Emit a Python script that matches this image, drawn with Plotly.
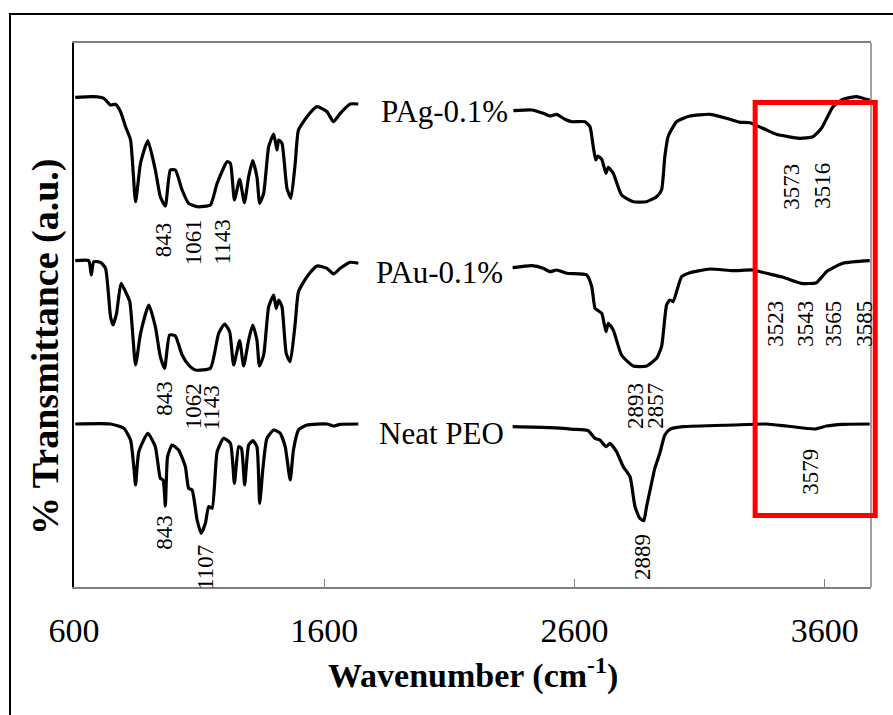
import plotly.graph_objects as go

# ---------------- data ----------------
# wavenumber (cm-1) and stacked transmittance (arbitrary units)
pag_wn_low = [605, 679, 719, 746, 766, 786, 806, 826, 846, 866, 895, 925, 945, 965, 985, 1005,
              1032, 1058, 1092, 1145, 1172, 1212, 1225, 1241, 1262, 1281, 1298, 1314, 1331, 1342,
              1358, 1378, 1398, 1411, 1418, 1431, 1451, 1467, 1484, 1497, 1531, 1571, 1611, 1637,
              1664, 1704, 1736]
pag_t_low = [489.7, 490.3, 488.7, 482, 482.7, 475.3, 460.3, 447, 385.3, 424, 446.3, 417, 390.3, 381,
             417, 417, 397, 383.7, 380.3, 382, 403.7, 425.3, 423.7, 387, 407.7, 384.3, 410.3, 426.3,
             410.3, 383.7, 393.7, 440.3, 453, 437, 447, 443.7, 398.7, 388.7, 423.7, 457, 470.3,
             480.3, 475.3, 465.3, 473.7, 483, 483]
pag_wn_high = [2356, 2429, 2475, 2502, 2529, 2562, 2589, 2642, 2662, 2675, 2685, 2693, 2709, 2726,
               2735, 2755, 2788, 2835, 2888, 2928, 2948, 2961, 2974, 3008, 3061, 3141, 3208, 3261,
               3301, 3367, 3407, 3500, 3553, 3587, 3633, 3673, 3727, 3767, 3780]
pag_t_high = [476.3, 477, 473.7, 471, 472.7, 467.7, 465.3, 465.3, 460.3, 440.3, 427, 431, 427.7,
              413.7, 419.7, 413.7, 392, 385.3, 385.3, 390.3, 397, 430.3, 450.3, 465.3, 471, 472.7,
              468.7, 464.7, 464.3, 457, 452.7, 448.7, 450.3, 458.7, 480.3, 487.7, 490.3, 487.7, 487]

pau_wn_low = [605, 659, 669, 679, 706, 726, 746, 756, 770, 788, 806, 823, 846, 866, 899, 925, 945,
              962, 982, 1005, 1032, 1058, 1085, 1145, 1178, 1202, 1222, 1238, 1262, 1278, 1298,
              1314, 1331, 1341, 1358, 1378, 1398, 1408, 1418, 1431, 1448, 1464, 1484, 1497, 1531,
              1571, 1611, 1637, 1664, 1704, 1736]
pau_t_low = [326.3, 326.3, 312, 325.3, 324.7, 318.7, 270.3, 262, 273.7, 303.7, 295.3, 285.3, 222,
             253.7, 282, 260.3, 230.3, 218.7, 252, 251, 232, 222, 217, 218.7, 253.7, 263, 255.3,
             222, 246.3, 221, 247, 262, 247, 221, 232, 280.3, 292, 278.7, 287, 280.3, 233.7, 225.3,
             263.7, 295.3, 310.3, 321, 318.7, 313, 318.7, 324.7, 323.7]
pau_wn_high = [2353, 2429, 2475, 2502, 2529, 2569, 2649, 2669, 2682, 2691, 2709, 2726, 2735, 2755,
               2788, 2835, 2888, 2928, 2948, 2968, 2981, 2994, 3028, 3061, 3141, 3234, 3314, 3367,
               3434, 3507, 3567, 3607, 3673, 3780]
pau_t_high = [319.3, 321.3, 318.7, 315.3, 317, 313.7, 312, 300.3, 278.7, 277, 273.7, 255.3, 263.7,
              257, 232, 221, 221, 228.7, 240.3, 282, 287, 285.3, 310.3, 314.3, 318, 316.3, 317,
              313.7, 309.7, 303.7, 304.3, 315.3, 323.7, 326.3]

peo_wn_low = [605, 746, 799, 826, 839, 846, 859, 895, 925, 945, 956, 965, 974, 992, 1018, 1045,
              1058, 1072, 1092, 1108, 1125, 1138, 1152, 1172, 1198, 1225, 1241, 1258, 1269, 1282,
              1298, 1315, 1331, 1342, 1355, 1371, 1398, 1424, 1444, 1464, 1477, 1497, 1531, 1611,
              1637, 1664, 1736]
peo_t_low = [163, 163, 158.7, 147, 120.3, 102, 135.3, 153.7, 140.3, 108.7, 107, 81, 130.3, 142,
             137, 120.3, 98.7, 97, 67, 53.7, 63.7, 80.3, 78.7, 135.3, 148.7, 143.7, 103.7, 140.3,
             138.7, 102, 142, 146.3, 140.3, 83.7, 118.7, 148.7, 157, 153.7, 140.3, 107, 137, 157,
             162, 163, 161, 162.7, 163]
peo_wn_high = [2353, 2502, 2595, 2655, 2682, 2702, 2726, 2742, 2768, 2795, 2822, 2842, 2861, 2877,
               2888, 2908, 2921, 2941, 2961, 2981, 3034, 3234, 3367, 3447, 3560, 3607, 3673, 3780]
peo_t_high = [160.3, 159.3, 157.7, 156.3, 148.7, 147, 140.3, 143.7, 135.3, 120.3, 110.3, 80.3,
              68.7, 66.3, 80.3, 103.7, 118.7, 133.7, 152, 157.7, 160.3, 162, 163, 161, 158, 161,
              162.7, 163]

x_tick_vals = [600, 1600, 2600, 3600]
x_tick_text = ["600", "1600", "2600", "3600"]

series_names = ["PAg-0.1%", "PAu-0.1%", "Neat PEO"]
series_label_wn = [2079, 2059, 2067]
series_label_t = [476, 315, 154]

peak_texts = ["843", "1061", "1143", "843", "1062", "1143", "843", "1107",
              "2893", "2857", "2889", "3573", "3516",
              "3523", "3543", "3565", "3585", "3579"]
peak_wn = [957, 1077, 1193, 959, 1077, 1149, 959, 1123,
           2842, 2921, 2870, 3464, 3588,
           3400, 3520, 3632, 3756, 3540]
peak_t = [347, 345, 345, 189, 181, 179, 55, 20,
          181, 181, 30, 400, 401,
          263, 263, 263, 263, 115]

box_wn = [3322, 3802]
box_t = [71.5, 484.5]

# ---------------- layout constants ----------------
W, H = 893, 715
ML, MR, MT, MB = 74, 22, 43, 128
X_RANGE = [600, 3785]
Y_RANGE = [0, 544]
SERIF = "Liberation Serif, Times New Roman, serif"


def xpaper(v):
    return (v - X_RANGE[0]) / (X_RANGE[1] - X_RANGE[0])


def ypaper(v):
    return (v - Y_RANGE[0]) / (Y_RANGE[1] - Y_RANGE[0])


def px_to_xpaper(px):
    return (px - ML) / (W - ML - MR)


def py_to_ypaper(py):
    return (H - MB - py) / (H - MT - MB)


fig = go.Figure()
curves = [(pag_wn_low, pag_t_low, pag_wn_high, pag_t_high),
          (pau_wn_low, pau_t_low, pau_wn_high, pau_t_high),
          (peo_wn_low, peo_t_low, peo_wn_high, peo_t_high)]
for name, (wl, tl, wh, th) in zip(series_names, curves):
    fig.add_trace(go.Scatter(
        x=wl + [None] + wh, y=tl + [None] + th, mode="lines", name=name,
        line=dict(color="black", width=3.2, shape="spline", smoothing=0.5),
        connectgaps=False, showlegend=False, hoverinfo="skip"))

annotations = []
for name, xw, yt in zip(series_names, series_label_wn, series_label_t):
    annotations.append(dict(x=xw, y=yt, xref="x", yref="y", text=name, showarrow=False,
                            font=dict(family=SERIF, size=31, color="black"),
                            xanchor="center", yanchor="middle"))
for txt, xw, yt in zip(peak_texts, peak_wn, peak_t):
    annotations.append(dict(x=xw, y=yt, xref="x", yref="y", text=txt, showarrow=False,
                            textangle=-90, font=dict(family=SERIF, size=23, color="black"),
                            xanchor="center", yanchor="middle"))
annotations.append(dict(x=0.5, y=py_to_ypaper(673), xref="paper", yref="paper",
                        text="<b>Wavenumber (cm<sup>-1</sup>)</b>", showarrow=False,
                        font=dict(family=SERIF, size=34, color="black"),
                        xanchor="center", yanchor="middle"))
annotations.append(dict(x=px_to_xpaper(45), y=py_to_ypaper(347), xref="paper", yref="paper",
                        text="<b>% Transmittance (a.u.)</b>", showarrow=False, textangle=-90,
                        font=dict(family=SERIF, size=38, color="black"),
                        xanchor="center", yanchor="middle"))

shapes = [
    # outer frame
    dict(type="rect", xref="paper", yref="paper", x0=px_to_xpaper(10), x1=1.2,
         y0=-0.6, y1=py_to_ypaper(14), line=dict(color="black", width=2), layer="below"),
    # right border of plot area
    dict(type="line", xref="paper", yref="paper", x0=1, x1=1, y0=0, y1=1,
         line=dict(color="#808080", width=1.5)),
    # red highlight box
    dict(type="rect", xref="paper", yref="paper",
         x0=xpaper(box_wn[0]), x1=xpaper(box_wn[1]),
         y0=ypaper(box_t[0]), y1=ypaper(box_t[1]),
         line=dict(color="#ff0000", width=5)),
]

fig.update_layout(
    width=W, height=H,
    margin=dict(l=ML, r=MR, t=MT, b=MB, pad=0),
    paper_bgcolor="white", plot_bgcolor="white",
    annotations=annotations, shapes=shapes,
    xaxis=dict(range=X_RANGE, tickvals=x_tick_vals, ticktext=x_tick_text,
               ticks="inside", ticklen=8, tickcolor="#808080", tickwidth=1,
               showline=True, linecolor="#808080", linewidth=1.5, mirror=True,
               showgrid=False, zeroline=False, ticklabelstandoff=12,
               tickfont=dict(family=SERIF, size=34, color="black")),
    yaxis=dict(range=Y_RANGE, showticklabels=False, ticks="", showline=True,
               linecolor="black", linewidth=1.5, showgrid=False, zeroline=False),
)

fig.write_html("out.html")
